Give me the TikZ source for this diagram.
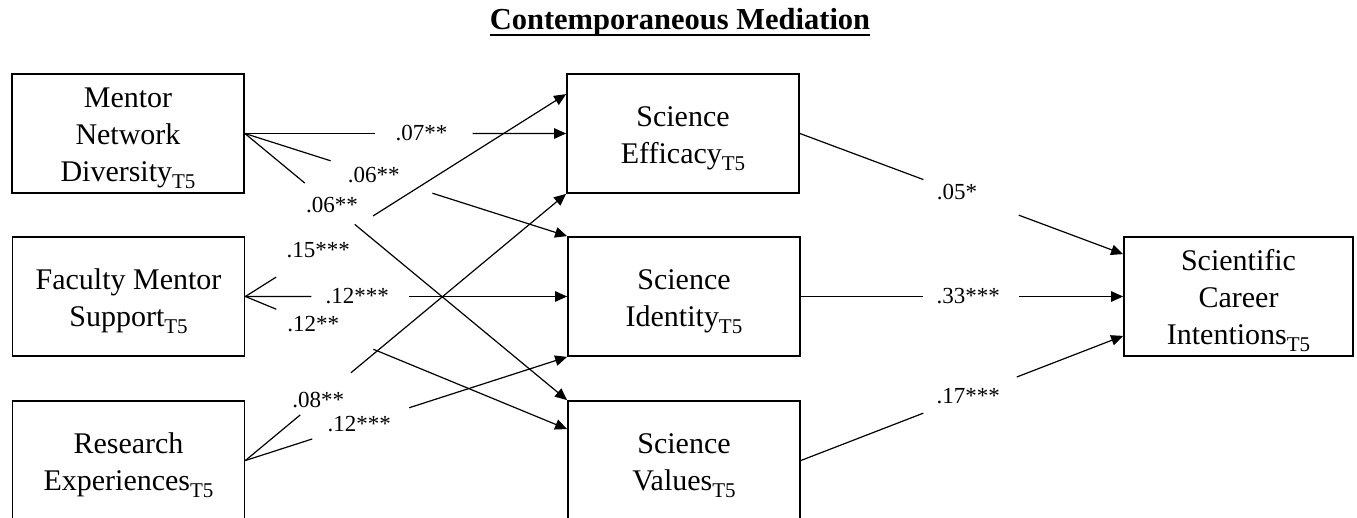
\documentclass[tikz,border=0pt]{standalone}
\usepackage{fontspec}
\setmainfont{Liberation Serif}
\usetikzlibrary{arrows.meta,calc}
\newcommand\tfive{\raisebox{-7pt}{\fontsize{21}{21}\selectfont T5}}
\newcommand\gapline[6]{%
  \draw[conn] (#1) -- ($(#1)!#3!(#2)$);
  \draw[arr] ($(#1)!#4!(#2)$) -- (#2);
  \node[lab] at ($(#1)!#5!(#2)$) {#6};}
\begin{document}
\begin{tikzpicture}[x=1pt,y=-1pt,
  box/.style={draw, line width=1.8pt, minimum width=232pt, minimum height=119pt,
    inner sep=0pt, align=center, text height=60pt, text depth=0pt,
    font=\fontsize{30}{37}\selectfont},
  box3/.style={box, text height=96pt},
  conn/.style={line width=1.2pt},
  arr/.style={line width=1.2pt, -{Triangle[length=12pt,width=10.5pt]}},
  lab/.style={font=\fontsize{23}{23}\selectfont, inner sep=0pt}]
\useasboundingbox (0,0) rectangle (1357,518);
\clip (0,0) rectangle (1357,518);
\node[font=\bfseries\fontsize{30.5}{30.5}\selectfont, anchor=base, inner sep=0pt] (title) at (680,30) {Contemporaneous Mediation};
\draw[line width=1.8pt] ($(title.base west)+(0,5)$) -- ($(title.base east)+(0,5)$);

\node[box3] (mnd) at (128,133.5) {Mentor\\Network\\Diversity\tfive};
\node[box] (fms) at (128.5,296.5) {Faculty Mentor\\Support\tfive};
\node[box] (re) at (128.5,460.5) {Research\\Experiences\tfive};
\node[box] (eff) at (683,133.5) {Science\\Efficacy\tfive};
\node[box] (ide) at (684,296.5) {Science\\Identity\tfive};
\node[box] (val) at (684,460.5) {Science\\Values\tfive};
\node[box3, minimum width=229pt] (car) at (1238.5,296.5) {Scientific\\Career\\Intentions\tfive};

\coordinate (effB) at ($(eff.north west)+(0,21)$);
\coordinate (valB) at ($(val.north west)+(0,29)$);
\coordinate (carT) at ($(car.north west)+(0,18)$);
\coordinate (carB) at ($(car.south west)+(0,-21)$);

\gapline{mnd.east}{eff.west}{0.406}{0.709}{0.55}{.07**}
\gapline{mnd.east}{ide.north west}{0.266}{0.582}{0.40}{.06**}
\gapline{mnd.east}{val.north west}{0.186}{0.341}{0.27}{.06**}
\gapline{fms.east}{effB}{0.096}{0.398}{0.227}{.15***}
\gapline{fms.east}{ide.west}{0.205}{0.509}{0.348}{.12***}
\gapline{fms.east}{valB}{0.096}{0.398}{0.211}{.12**}
\gapline{re.east}{eff.south west}{0.171}{0.329}{0.227}{.08**}
\gapline{re.east}{ide.south west}{0.208}{0.509}{0.354}{.12***}
\gapline{eff.east}{carT}{0.382}{0.677}{0.486}{.05*}
\gapline{ide.east}{car.west}{0.38}{0.676}{0.519}{.33***}
\gapline{val.east}{carB}{0.38}{0.67}{0.519}{.17***}
\end{tikzpicture}
\end{document}
